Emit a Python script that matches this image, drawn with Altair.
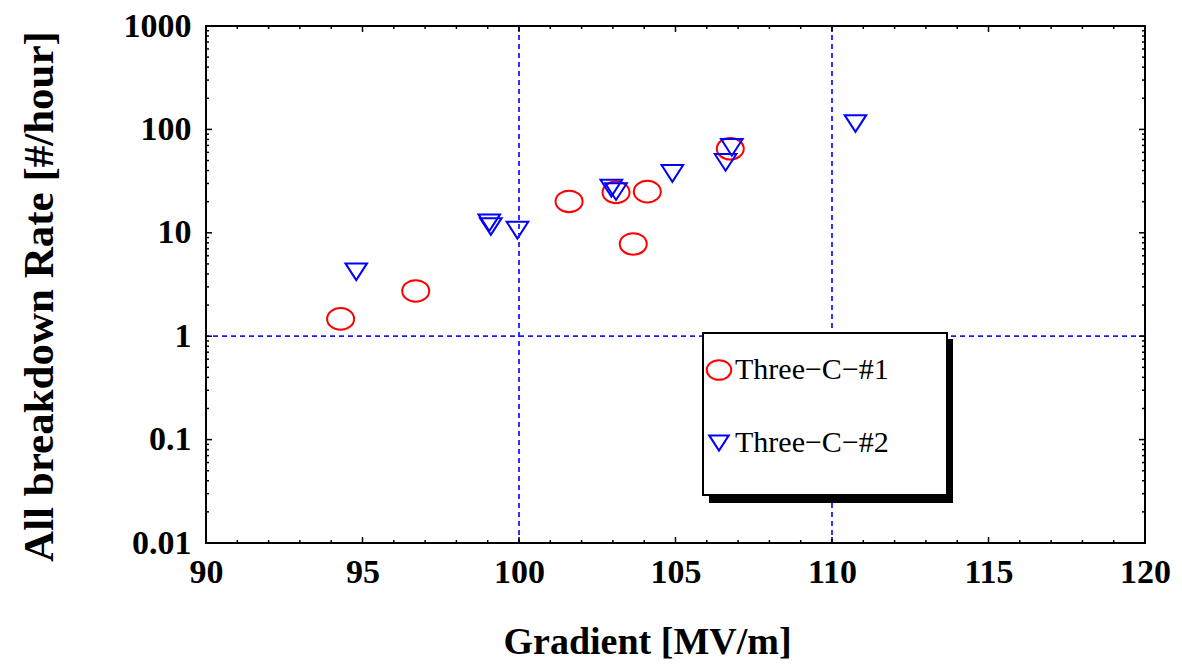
import altair as alt
import pandas as pd

# ---- data ----
series_names = ["Three−C−#1", "Three−C−#2"]
s1_gradient = [94.3, 96.7, 101.6, 103.1, 104.1, 103.65, 106.75]
s1_rate = [1.47, 2.74, 20.1, 24.6, 25.0, 7.8, 65.0]
s2_gradient = [94.8, 99.05, 99.1, 99.95, 102.95, 103.1, 104.9, 106.8, 106.6, 110.75]
s2_rate = [4.2, 12.5, 11.5, 10.6, 27.0, 25.0, 37.5, 67.0, 48.0, 114.0]

x_ticks = [90, 95, 100, 105, 110, 115, 120]
y_ticks = [0.01, 0.1, 1, 10, 100, 1000]
x_minor = [v for v in range(91, 120) if v % 5 != 0]
y_minor = [m * 10.0 ** e for e in range(-2, 3) for m in range(2, 10)]
x_ref = [100, 110]
y_ref = [1]

W, H = 939, 517
SERIF = "Liberation Serif"

df = pd.DataFrame({
    "g": s1_gradient + s2_gradient,
    "r": s1_rate + s2_rate,
    "s": [series_names[0]] * len(s1_gradient) + [series_names[1]] * len(s2_gradient),
})

xs = alt.Scale(domain=[90, 120], nice=False, zero=False)
ys = alt.Scale(type="log", domain=[0.01, 1000], nice=False)

x_axis = alt.Axis(
    values=x_ticks, title="Gradient [MV/m]", titleFontSize=38,
    titleX=441, titleY=110, titleAlign="center", titleBaseline="alphabetic",
    labelPadding=12)
y_axis = alt.Axis(
    values=y_ticks, format="~g", title="All breakdown Rate [#/hour]", titleFontSize=43,
    titleX=-154, titleY=270, titleAlign="center", titleBaseline="alphabetic",
    titleAngle=270, labelPadding=15)

ellipse = "M -1 0 A 1 0.8 0 1 0 1 0 A 1 0.8 0 1 0 -1 0 Z"
triangle = "M -0.8 -0.62 L 0.8 -0.62 L 0 0.62 Z"

leg = alt.Legend(
    title=None, orient="none", legendX=498, legendY=329, padding=0,
    rowPadding=43, labelFont=SERIF, labelFontSize=30, labelColor="black",
    labelOffset=1, symbolStrokeWidth=2, symbolSize=600,
)

points = alt.Chart(df).mark_point(filled=False, strokeWidth=2, opacity=1, size=729).encode(
    x=alt.X("g:Q", scale=xs, axis=x_axis),
    y=alt.Y("r:Q", scale=ys, axis=y_axis),
    color=alt.Color("s:N", scale=alt.Scale(domain=series_names, range=["#ff0000", "#0000ff"]), legend=leg),
    shape=alt.Shape("s:N", scale=alt.Scale(domain=series_names, range=[ellipse, triangle]), legend=leg),
)

dash = dict(color="#1a1aff", strokeDash=[5, 4], strokeWidth=1.8)
vref = alt.Chart(pd.DataFrame({"v": x_ref})).mark_rule(**dash).encode(
    x=alt.X("v:Q", scale=xs, axis=x_axis))
href = alt.Chart(pd.DataFrame({"v": y_ref})).mark_rule(**dash).encode(
    y=alt.Y("v:Q", scale=ys, axis=y_axis))

one = pd.DataFrame({"a": [0]})
shadow = alt.Chart(one).mark_rect(color="black").encode(
    x=alt.value(503), x2=alt.value(747), y=alt.value(313), y2=alt.value(477))
box = alt.Chart(one).mark_rect(fill="white", stroke="black", strokeWidth=2).encode(
    x=alt.value(497), x2=alt.value(741), y=alt.value(307), y2=alt.value(469))


def xt(vals, y0, y1):
    return alt.Chart(pd.DataFrame({"v": vals})).mark_rule(color="black", strokeWidth=1.5).encode(
        x=alt.X("v:Q", scale=xs, axis=x_axis), y=alt.value(y0), y2=alt.value(y1))


def yt(vals, x0, x1):
    return alt.Chart(pd.DataFrame({"v": vals})).mark_rule(color="black", strokeWidth=1.5).encode(
        y=alt.Y("v:Q", scale=ys, axis=y_axis), x=alt.value(x0), x2=alt.value(x1))


ticks = [
    xt(x_ticks, H, H - 6), xt(x_ticks, 0, 6), xt(x_minor, H, H - 3), xt(x_minor, 0, 3),
    yt(y_ticks, 0, 6), yt(y_ticks, W, W - 6), yt(y_minor, 0, 3), yt(y_minor, W, W - 3),
]

chart = alt.layer(points, vref, href, *ticks, shadow, box).properties(
    width=W, height=H,
    autosize=alt.AutoSizeParams(type="none"),
    padding={"left": 198, "top": 18, "right": 29, "bottom": 122},
).configure_view(
    stroke="black", strokeWidth=2
).configure_axis(
    grid=False, ticks=False, tickSize=0, domain=False, labelFlush=False,
    labelFont=SERIF, labelFontWeight="bold", labelFontSize=34, labelColor="black",
    titleFont=SERIF, titleFontWeight="bold", titleColor="black",
)

chart.save("out.html", embed_options={"renderer": "svg", "actions": False})
